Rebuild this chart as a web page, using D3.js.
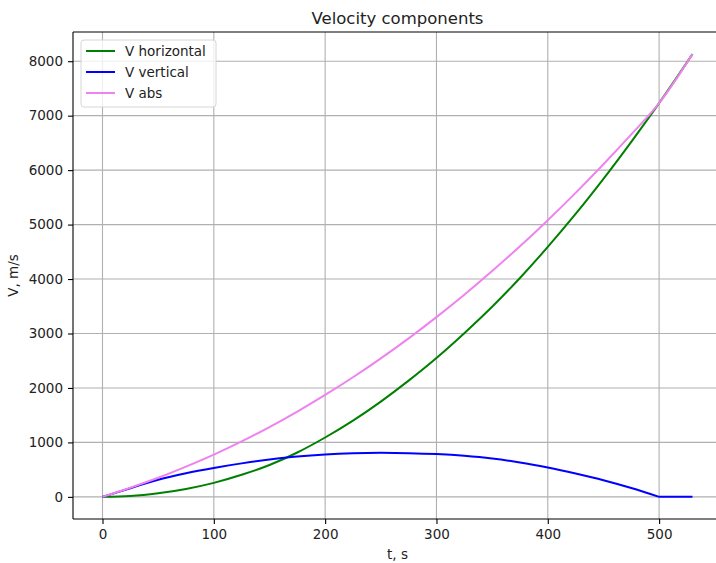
<!DOCTYPE html>
<html>
<head>
<meta charset="utf-8">
<script src="https://cdn.jsdelivr.net/npm/d3@7"></script>
<style>
  body { margin: 0; background: #fff; }
  text { font-family: "DejaVu Sans", sans-serif; fill: #222; }
</style>
</head>
<body>
<script>
// time, s
var tValues = [0, 25, 50, 75, 100, 125, 150, 175, 200, 225, 250, 275, 300,
               325, 350, 375, 400, 425, 450, 475, 500, 530];
// velocity components, m/s
var vHorizontal = [0, 15, 65, 145, 257, 405, 585, 815, 1090, 1400, 1750, 2135, 2550,
                   3005, 3490, 4020, 4590, 5195, 5840, 6520, 7230, 8130];
var vVertical = [0, 158, 315, 435, 532, 615, 684, 740, 778, 800, 808, 802, 785,
                 754, 705, 632, 538, 428, 306, 162, 0, 0];
var vAbs = [0, 168, 350, 555, 776, 1019, 1282, 1566, 1871, 2196, 2543, 2911, 3301,
            3712, 4146, 4602, 5081, 5583, 6108, 6656, 7230, 8130];
var xTicks = [0, 100, 200, 300, 400, 500];
var yTicks = [0, 1000, 2000, 3000, 4000, 5000, 6000, 7000, 8000];

var series = [
  {name: "V horizontal", values: vHorizontal, color: "green", breaks: []},
  {name: "V vertical", values: vVertical, color: "blue", breaks: [20]},
  {name: "V abs", values: vAbs, color: "violet", breaks: []}
];

var W = 716, H = 563;
var margin = {top: 32, right: -6, bottom: 44, left: 73},
    width = W - margin.left - margin.right,
    height = H - margin.top - margin.bottom;

var svg = d3.select("body").append("svg")
    .attr("width", W)
    .attr("height", H);

var g = svg.append("g")
    .attr("transform", "translate(" + margin.left + "," + margin.top + ")");

var x = d3.scaleLinear().domain([-26.5, 556.5]).range([0, width]);
var y = d3.scaleLinear().domain([-406.5, 8536.5]).range([height, 0]);

// grid
g.append("g").selectAll("line")
    .data(xTicks).enter().append("line")
    .attr("x1", function(d) { return x(d); })
    .attr("x2", function(d) { return x(d); })
    .attr("y1", 0).attr("y2", height)
    .attr("stroke", "#b0b0b0").attr("stroke-width", 1.1);

g.append("g").selectAll("line")
    .data(yTicks).enter().append("line")
    .attr("y1", function(d) { return y(d); })
    .attr("y2", function(d) { return y(d); })
    .attr("x1", 0).attr("x2", width)
    .attr("stroke", "#b0b0b0").attr("stroke-width", 1.1);

// lines (split at kinks so the curve keeps its corner)
var line = d3.line()
    .x(function(d) { return x(d[0]); })
    .y(function(d) { return y(d[1]); })
    .curve(d3.curveMonotoneX);

function pathFor(s) {
  var pts = s.values.map(function(v, i) { return [tValues[i], v]; });
  var cuts = [0].concat(s.breaks, [pts.length - 1]);
  var d = "";
  for (var k = 0; k < cuts.length - 1; k++) {
    d += line(pts.slice(cuts[k], cuts[k + 1] + 1));
  }
  return d;
}

g.selectAll(".series")
    .data(series).enter().append("path")
    .attr("class", "series")
    .attr("fill", "none")
    .attr("stroke", function(d) { return d.color; })
    .attr("stroke-width", 2)
    .attr("stroke-linejoin", "round")
    .attr("d", pathFor);

// axes
var xAxis = d3.axisBottom(x).tickValues(xTicks).tickFormat(d3.format("d")).tickSize(5).tickPadding(5);
var yAxis = d3.axisLeft(y).tickValues(yTicks).tickFormat(d3.format("d")).tickSize(5).tickPadding(5);

var gx = g.append("g")
    .attr("transform", "translate(0," + height + ")")
    .call(xAxis);
var gy = g.append("g").call(yAxis);

[gx, gy].forEach(function(a) {
  a.select(".domain").remove();
  a.selectAll(".tick line").attr("stroke", "#000").attr("stroke-width", 1.1);
  a.selectAll(".tick text")
      .style("font-family", "DejaVu Sans, sans-serif")
      .style("font-size", "13.5px")
      .attr("fill", "#222");
});

// spines
g.append("line").attr("x1", 0).attr("x2", 0).attr("y1", 0).attr("y2", height)
    .attr("stroke", "#000").attr("stroke-width", 1.1);
g.append("line").attr("x1", 0).attr("x2", width).attr("y1", height).attr("y2", height)
    .attr("stroke", "#000").attr("stroke-width", 1.1);
g.append("line").attr("x1", 0).attr("x2", width).attr("y1", 0).attr("y2", 0)
    .attr("stroke", "#000").attr("stroke-width", 1.1);
g.append("line").attr("x1", width).attr("x2", width).attr("y1", 0).attr("y2", height)
    .attr("stroke", "#000").attr("stroke-width", 1.1);

// title and labels
svg.append("text")
    .attr("x", margin.left + width / 2)
    .attr("y", 24)
    .attr("text-anchor", "middle")
    .style("font-size", "16.5px")
    .text("Velocity components");

svg.append("text")
    .attr("x", margin.left + width / 2)
    .attr("y", 559)
    .attr("text-anchor", "middle")
    .style("font-size", "13.5px")
    .text("t, s");

svg.append("text")
    .attr("transform", "translate(18," + (margin.top + height / 2) + ") rotate(-90)")
    .attr("text-anchor", "middle")
    .style("font-size", "13.5px")
    .text("V, m/s");

// legend
var legend = svg.append("g").attr("transform", "translate(81,40)");
legend.append("rect")
    .attr("width", 135).attr("height", 67)
    .attr("rx", 3).attr("ry", 3)
    .attr("fill", "#fff").attr("fill-opacity", 0.8)
    .attr("stroke", "#d6d6d6").attr("stroke-width", 1);

var item = legend.selectAll(".item")
    .data(series).enter().append("g")
    .attr("class", "item")
    .attr("transform", function(d, i) { return "translate(0," + (11 + i * 21) + ")"; });

item.append("line")
    .attr("x1", 5).attr("x2", 34)
    .attr("stroke", function(d) { return d.color; })
    .attr("stroke-width", 2);

item.append("text")
    .attr("x", 44).attr("y", 5)
    .style("font-size", "13.5px")
    .text(function(d) { return d.name; });
</script>
</body>
</html>
